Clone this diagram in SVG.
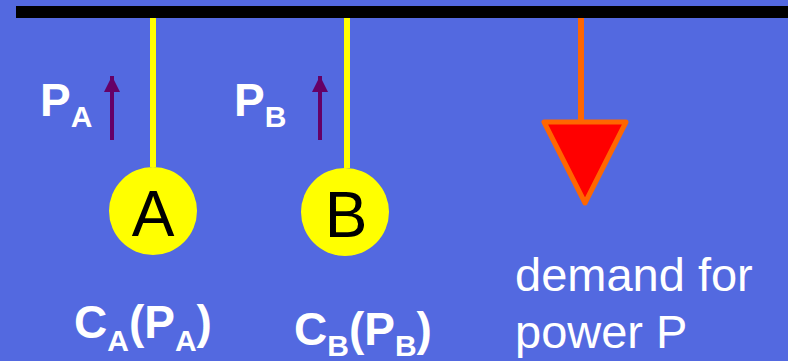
<svg xmlns="http://www.w3.org/2000/svg" width="788" height="361" viewBox="0 0 788 361">
  <defs>
    <style>
      .lbl { font-family: "Liberation Sans", Arial, sans-serif; font-weight: bold; fill: #ffffff; font-size: 46px; }
      .sub { font-size: 30px; }
      .node-text { font-family: "Liberation Sans", Arial, sans-serif; font-size: 64px; fill: #000000; text-anchor: middle; }
      .plain { font-family: "Liberation Sans", Arial, sans-serif; font-size: 47px; fill: #ffffff; }
      .gen { fill: #ffff00; }
      .wire-y { stroke: #ffff00; stroke-width: 6; }
      .flow { stroke: #660066; stroke-width: 4; }
    </style>
    <marker id="purpleHead" markerUnits="userSpaceOnUse" markerWidth="16" markerHeight="16" refX="16" refY="8" orient="auto">
      <path d="M0,0 L16,8 L0,16 Z" fill="#660066"/>
    </marker>
  </defs>

  <rect x="0" y="0" width="788" height="361" fill="#5369E0"/>

  <g id="bus">
    <rect x="16" y="6" width="772" height="12" fill="#000000"/>
  </g>

  <g id="connectors">
    <line class="wire-y" x1="153" y1="18" x2="153" y2="167"/>
    <line class="wire-y" x1="347" y1="18" x2="347" y2="168"/>
    <line x1="581" y1="18" x2="581" y2="120" stroke="#ff6600" stroke-width="6"/>
    <line class="flow" x1="112" y1="140" x2="112" y2="76" marker-end="url(#purpleHead)"/>
    <line class="flow" x1="320" y1="140" x2="320" y2="76" marker-end="url(#purpleHead)"/>
  </g>

  <g id="node-A">
    <circle class="gen" cx="153" cy="211" r="44"/>
    <text class="node-text" x="153" y="236">A</text>
  </g>

  <g id="node-B">
    <circle class="gen" cx="345" cy="212" r="44"/>
    <text class="node-text" x="346" y="237">B</text>
  </g>

  <g id="demand">
    <polygon points="544,122 626,122 585,203" fill="#ff0000" stroke="#ff6600" stroke-width="5" stroke-linejoin="round"/>
    <text class="plain" x="515" y="291">demand for</text>
    <text class="plain" x="515" y="348">power P</text>
  </g>

  <g id="label-PA">
    <text class="lbl" x="40" y="116">P<tspan class="sub" dy="11">A</tspan></text>
  </g>
  <g id="label-PB">
    <text class="lbl" x="234" y="116">P<tspan class="sub" dy="11">B</tspan></text>
  </g>
  <g id="label-CA">
    <text class="lbl" x="74" y="338">C<tspan class="sub" dy="13">A</tspan><tspan dy="-13">(P</tspan><tspan class="sub" dy="13">A</tspan><tspan dy="-13">)</tspan></text>
  </g>
  <g id="label-CB">
    <text class="lbl" x="294" y="345">C<tspan class="sub" dy="11">B</tspan><tspan dy="-11">(P</tspan><tspan class="sub" dy="11">B</tspan><tspan dy="-11">)</tspan></text>
  </g>
</svg>
